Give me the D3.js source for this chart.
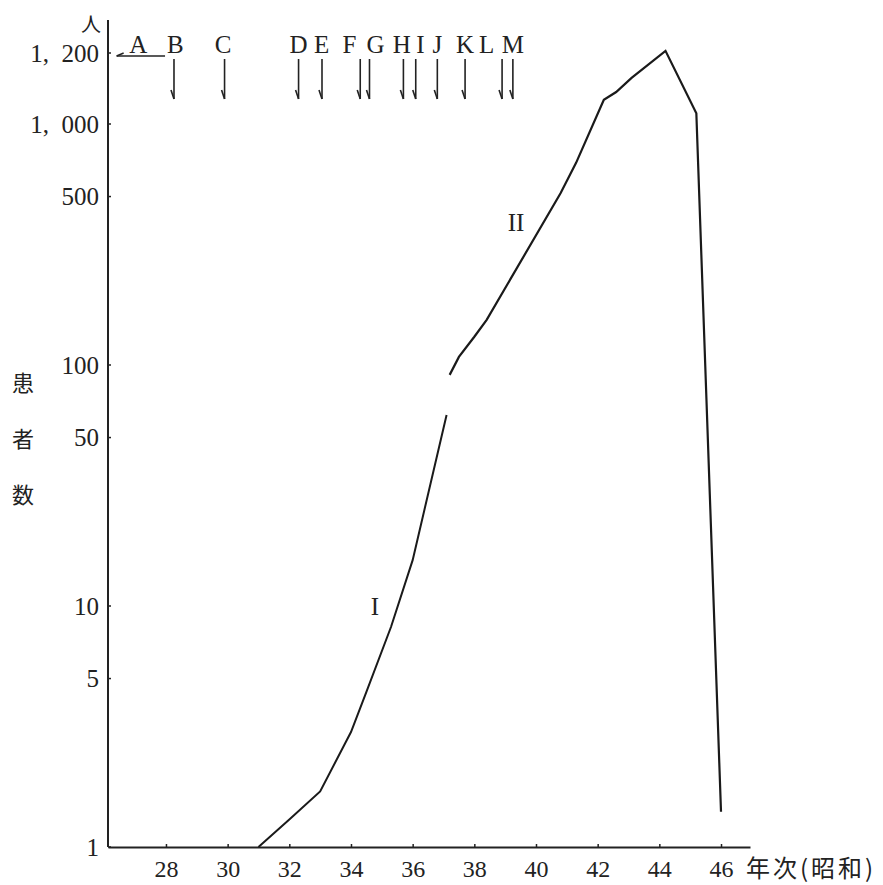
<!DOCTYPE html>
<html>
<head>
<meta charset="utf-8">
<script src="https://cdn.jsdelivr.net/npm/d3@7"></script>
<style>
  body { margin: 0; background: #fff; }
  text { fill: #222; }
  .num { font-family: "Liberation Serif", "DejaVu Serif", serif; }
  .cjk { font-family: "Noto Sans CJK JP", sans-serif; }
</style>
</head>
<body>
<div id="chart"></div>
<script>
// curve I (昭和31-37)
var yearsI  = [31, 32, 33, 34, 34.5, 35.3, 36, 37.1];
var valuesI = [1, 1.3, 1.7, 3, 4.4, 8.2, 15.5, 62];

// curve II (昭和37-46)
var yearsII  = [37.2, 37.5, 38, 38.4, 40.8, 41.3, 42.2, 42.6, 43.1, 44.2, 45.2, 46];
var valuesII = [91, 108, 131, 154, 517, 690, 1068, 1090, 1130, 1206, 1030, 1.4];

var xTicks = [28, 30, 32, 34, 36, 38, 40, 42, 44, 46];
var yTicks = [1, 5, 10, 50, 100, 500, 1000, 1200];
var yTickLabels = ["1", "5", "10", "50", "100", "500", "1,\u2002000", "1,\u2002200"];

// events marked at the top
var eventLetters   = ["A", "B", "C", "D", "E", "F", "G", "H", "I", "J", "K", "L", "M"];
var eventLabelYear = [27.1, 28.3, 29.85, 32.3, 33.05, 33.95, 34.8, 35.65, 36.25, 36.8, 37.7, 38.4, 39.25];
var eventArrowYear = [null, 28.26, 29.9, 32.3, 33.06, 34.3, 34.6, 35.7, 36.1, 36.8, 37.7, 38.9, 39.25];

var width = 883, height = 885;

var svg = d3.select("#chart").append("svg")
    .attr("width", width)
    .attr("height", height);

var x = d3.scaleLinear()
    .domain([26.12, 46.94])
    .range([108, 750]);

// log scale up to 1000, then a stretched linear piece to 1200
var yLog = d3.scaleLog().domain([1, 1000]).range([847, 124]);
var yTop = d3.scaleLinear().domain([1000, 1200]).range([124, 53]);
var y = function(v) { return v <= 1000 ? yLog(v) : yTop(v); };

// x axis
var xAxis = svg.append("g")
    .attr("transform", "translate(0,847)")
    .call(d3.axisBottom(x)
        .tickValues(xTicks)
        .tickSizeInner(-3)
        .tickSizeOuter(0)
        .tickPadding(13)
        .tickFormat(d3.format("d")));

xAxis.select(".domain").attr("stroke", "#222").attr("stroke-width", 2);
xAxis.selectAll(".tick line").attr("stroke", "#222").attr("stroke-width", 1.5);
xAxis.selectAll(".tick text")
    .attr("class", "num")
    .style("font-size", "24px")
    .attr("fill", "#222");

svg.append("text")
    .attr("class", "cjk")
    .attr("x", 746)
    .attr("y", 877)
    .style("font-size", "24px")
    .style("letter-spacing", "3px")
    .text("年次(昭和)");

// y axis
svg.append("line")
    .attr("x1", 108).attr("x2", 108)
    .attr("y1", 20).attr("y2", 847)
    .attr("stroke", "#222")
    .attr("stroke-width", 2);

svg.selectAll(".ytick")
    .data(yTicks)
    .enter().append("line")
    .attr("class", "ytick")
    .attr("x1", 108).attr("x2", 111)
    .attr("y1", function(d) { return y(d); })
    .attr("y2", function(d) { return y(d); })
    .attr("stroke", "#222")
    .attr("stroke-width", 1.5);

svg.selectAll(".ylabel")
    .data(yTicks)
    .enter().append("text")
    .attr("class", "num ylabel")
    .attr("x", 99)
    .attr("y", function(d) { return y(d); })
    .attr("dy", "0.35em")
    .attr("text-anchor", "end")
    .style("font-size", "25px")
    .text(function(d, i) { return yTickLabels[i]; });

svg.append("text")
    .attr("class", "cjk")
    .attr("x", 91)
    .attr("y", 25)
    .attr("dy", "0.35em")
    .attr("text-anchor", "middle")
    .style("font-size", "20px")
    .text("人");

svg.selectAll(".ytitle")
    .data(["患", "者", "数"])
    .enter().append("text")
    .attr("class", "cjk ytitle")
    .attr("x", 23)
    .attr("y", function(d, i) { return 383 + i * 56; })
    .attr("dy", "0.35em")
    .attr("text-anchor", "middle")
    .style("font-size", "22px")
    .text(function(d) { return d; });

// curves
var line = d3.line()
    .x(function(d) { return x(d[0]); })
    .y(function(d) { return y(d[1]); });

svg.append("path")
    .datum(d3.zip(yearsI, valuesI))
    .attr("d", line)
    .attr("fill", "none")
    .attr("stroke", "#1a1a1a")
    .attr("stroke-width", 2);

svg.append("path")
    .datum(d3.zip(yearsII, valuesII))
    .attr("d", line)
    .attr("fill", "none")
    .attr("stroke", "#1a1a1a")
    .attr("stroke-width", 2.2);

svg.append("text")
    .attr("class", "num")
    .attr("x", 375).attr("y", 606)
    .attr("dy", "0.35em")
    .attr("text-anchor", "middle")
    .style("font-size", "25px")
    .text("I");

svg.append("text")
    .attr("class", "num")
    .attr("x", 516).attr("y", 222)
    .attr("dy", "0.35em")
    .attr("text-anchor", "middle")
    .style("font-size", "25px")
    .text("II");

// event letters and arrows
svg.selectAll(".evlabel")
    .data(eventLetters)
    .enter().append("text")
    .attr("class", "num evlabel")
    .attr("x", function(d, i) { return x(eventLabelYear[i]); })
    .attr("y", 53)
    .attr("text-anchor", "middle")
    .style("font-size", "25px")
    .text(function(d) { return d; });

var arrows = svg.selectAll(".arrow")
    .data(eventArrowYear.filter(function(d) { return d !== null; }))
    .enter().append("g")
    .attr("class", "arrow")
    .attr("transform", function(d) { return "translate(" + x(d) + ",0)"; });

arrows.append("line")
    .attr("x1", 0).attr("x2", 0)
    .attr("y1", 59).attr("y2", 99)
    .attr("stroke", "#222")
    .attr("stroke-width", 1.6);

arrows.append("line")
    .attr("x1", 0).attr("x2", -3)
    .attr("y1", 99).attr("y2", 90)
    .attr("stroke", "#222")
    .attr("stroke-width", 1.6);

// A: horizontal arrow pointing back to the axis
svg.append("line")
    .attr("x1", x(27.97)).attr("x2", x(26.4))
    .attr("y1", 56).attr("y2", 56)
    .attr("stroke", "#222")
    .attr("stroke-width", 1.6);

svg.append("line")
    .attr("x1", x(26.4)).attr("x2", x(26.4) + 7)
    .attr("y1", 56).attr("y2", 53)
    .attr("stroke", "#222")
    .attr("stroke-width", 1.4);
</script>
</body>
</html>
